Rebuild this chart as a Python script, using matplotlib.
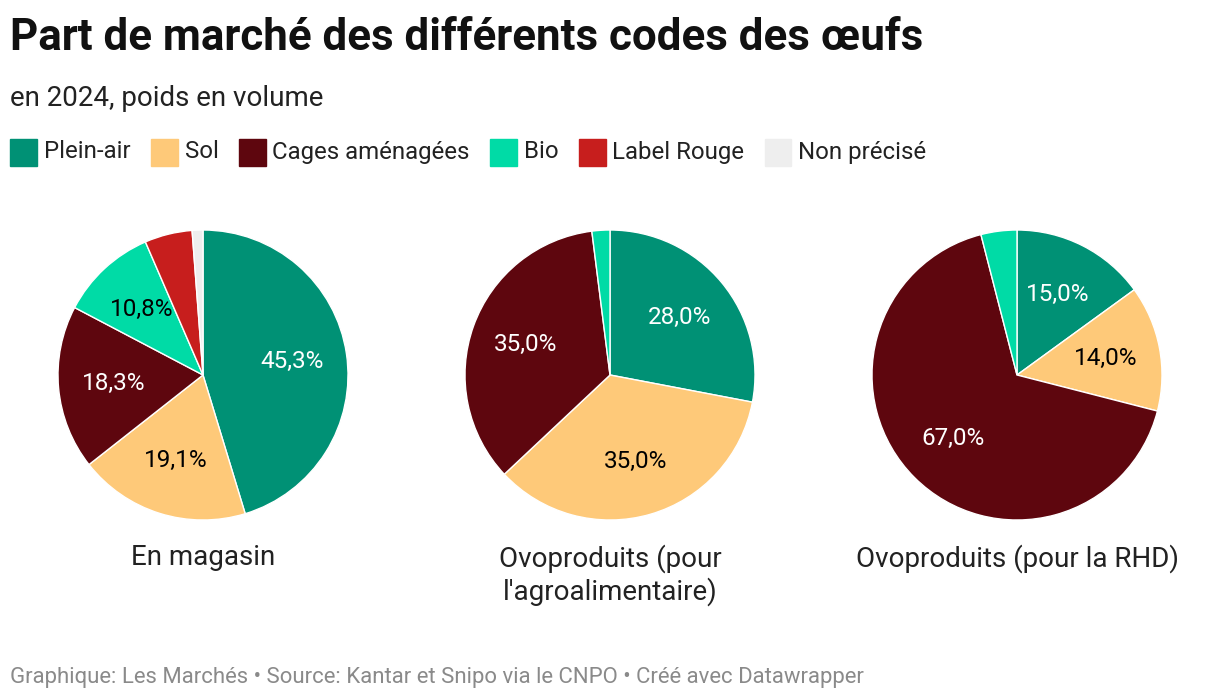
import matplotlib
matplotlib.use("Agg")
import matplotlib.pyplot as plt
from matplotlib.patches import Rectangle

plt.rcParams['font.family'] = ['Roboto', 'DejaVu Sans']

categories = ["Plein-air", "Sol", "Cages aménagées", "Bio", "Label Rouge", "Non précisé"]
colors = ["#009175", "#fec979", "#5e060e", "#00dba6", "#c71e1d", "#eeeeee"]
text_colors = ["white", "black", "white", "black", "white", "black"]

pie_titles = ["En magasin", "Ovoproduits (pour\nl'agroalimentaire)", "Ovoproduits (pour la RHD)"]
en_magasin = [45.3, 19.1, 18.3, 10.8, 5.3, 1.2]
ovo_agro = [28.0, 35.0, 35.0, 2.0, 0.0, 0.0]
ovo_rhd = [15.0, 14.0, 67.0, 4.0, 0.0, 0.0]
series = [en_magasin, ovo_agro, ovo_rhd]

W, H = 1220, 700
fig = plt.figure(figsize=(W / 100, H / 100), dpi=100)

def fx(px):
    return px / W

def fy(py):
    return 1 - py / H

# Title / subtitle
fig.text(fx(10), fy(38), "Part de marché des différents codes des œufs", fontsize=31.6,
         fontweight='bold', va='center', ha='left', color='#111111')
fig.text(fx(10), fy(98), "en 2024, poids en volume", fontsize=20, va='center', ha='left',
         color='#222222')

# Legend
fig.canvas.draw()
renderer = fig.canvas.get_renderer()
x = 10
ly = 152
sq = 27
for cat, col in zip(categories, colors):
    fig.patches.append(Rectangle((fx(x), fy(ly + sq / 2)), sq / W, sq / H,
                                 transform=fig.transFigure, color=col, figure=fig))
    t = fig.text(fx(x + sq + 7), fy(ly), cat, fontsize=17.3, va='center', ha='left',
                 color='#222222')
    bb = t.get_window_extent(renderer=renderer)
    x = x + sq + 7 + bb.width + 20

# Pies
centers = [203, 610, 1017]
cy = 375
R = 145
for cx, vals, title in zip(centers, series, pie_titles):
    ax = fig.add_axes([fx(cx - R), fy(cy + R), 2 * R / W, 2 * R / H])
    idx = [i for i, v in enumerate(vals) if v > 0]
    v = [vals[i] for i in idx]
    c = [colors[i] for i in idx]
    wedges, texts, autotexts = ax.pie(
        v, colors=c, startangle=90, counterclock=False,
        wedgeprops=dict(edgecolor='white', linewidth=1),
        autopct=lambda p: ('%.1f%%' % p).replace('.', ',') if p >= 9 else '',
        pctdistance=0.62, radius=1.0)
    for at, i in zip(autotexts, idx):
        at.set_color(text_colors[i])
        at.set_fontsize(17.5)
    ax.set_xlim(-1.0, 1.0)
    ax.set_ylim(-1.0, 1.0)
    ax.set_aspect('equal')
    ax.axis('off')
    fig.text(fx(cx), fy(544), title, fontsize=20, ha='center', va='top',
             color='#222222', linespacing=1.2)

fig.text(fx(10), fy(677), "Graphique: Les Marchés • Source: Kantar et Snipo via le CNPO • Créé avec Datawrapper",
         fontsize=15.9, ha='left', va='center', color='#8a8a8a')

fig.savefig("out.png", dpi=100, facecolor='white')
